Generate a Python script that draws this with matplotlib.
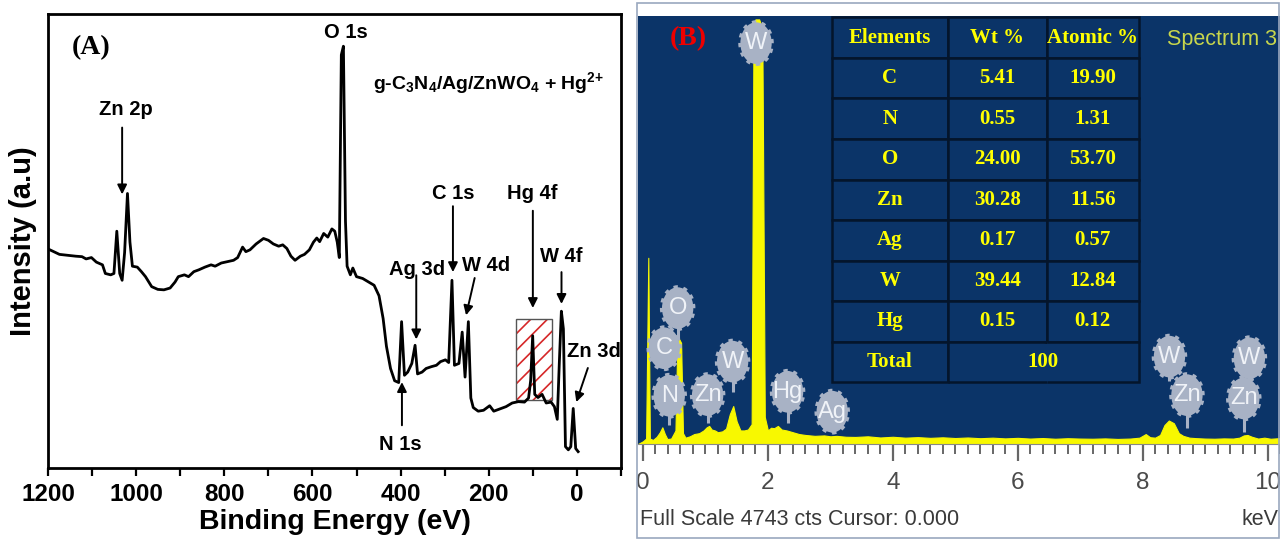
import numpy as np
import matplotlib.pyplot as plt
from matplotlib import font_manager
from matplotlib.patches import Rectangle
from matplotlib.path import Path
from matplotlib.transforms import Affine2D
from matplotlib.ticker import MultipleLocator

# ---- XPS survey spectrum (binding energy in eV, intensity in a.u.) ----
be = [1200, 1174, 1155.4, 1136.8, 1122.9, 1113.6, 1101.5, 1090.3, 1076.4, 1069.9,
      1057.8, 1050.4, 1043.9, 1037.3, 1031.8, 1026.2, 1019.7, 1014.1, 1008.5, 997.4,
      988.1, 978.8, 964.8, 950.9, 937.0, 923.0, 911.9, 904.4, 890.5, 881.2,
      869.1, 857.9, 844.0, 830.1, 820.8, 806.9, 792.9, 779.0, 769.7, 758.5,
      751.1, 741.8, 727.8, 711.1, 699.9, 688.8, 676.7, 667.4, 658.1, 648.8,
      639.5, 627.4, 618.1, 607.0, 597.7, 590.2, 583.7, 574.5, 565.2, 555.9,
      549.4, 543.8, 539.1, 534.5, 529.8, 525.1, 521.4, 514.0, 508.4, 500.1,
      486.1, 472.2, 460.1, 449.0, 439.7, 432.2, 422.9, 413.6, 404.3, 397.8,
      391.3, 383.9, 374.6, 367.2, 361.6, 351.4, 342.1, 330.0, 318.8, 309.5,
      298.4, 290.9, 283.5, 277.9, 267.7, 260.3, 253.8, 246.3, 240.7, 235.2,
      224.0, 211.9, 198.0, 188.7, 174.8, 160.8, 146.9, 132.9, 119.0, 109.7,
      105.0, 100.4, 95.7, 88.3, 79.0, 69.7, 58.6, 51.1, 44.6, 40.0,
      35.3, 30.7, 26.0, 19.5, 13.9, 8.4, 2.8, -2.8]
intensity = [48.2, 47.0, 46.8, 46.6, 46.5, 46.0, 46.3, 45.3, 44.7, 42.8,
             42.5, 42.8, 52.1, 42.8, 41.3, 47.4, 60.4, 49.7, 44.4, 44.2,
             43.2, 42.1, 39.9, 39.3, 39.2, 39.6, 40.9, 42.1, 42.5, 42.1,
             43.2, 43.6, 44.2, 44.7, 44.4, 45.1, 45.4, 45.7, 46.3, 48.6,
             47.6, 48.0, 49.3, 50.5, 50.1, 49.3, 48.8, 49.1, 48.3, 46.6,
             45.7, 46.6, 47.0, 48.0, 49.7, 50.6, 49.8, 51.6, 50.8, 52.6,
             52.1, 49.7, 46.3, 90.9, 92.8, 54.3, 44.4, 42.5, 44.0, 42.1,
             41.7, 40.9, 40.2, 37.9, 32.9, 26.8, 21.9, 19.2, 18.8, 32.2,
             20.4, 21.1, 23.0, 27.0, 20.7, 21.1, 21.9, 22.3, 22.6, 23.4,
             23.8, 23.2, 41.3, 22.6, 23.0, 29.9, 20.0, 32.2, 15.4, 13.3,
             12.5, 12.7, 13.7, 12.5, 13.0, 13.5, 14.3, 14.6, 14.5, 15.4,
             19.2, 29.1, 16.2, 15.5, 16.2, 14.3, 14.5, 13.5, 10.7, 23.0,
             34.5, 30.6, 4.7, 4.0, 4.7, 13.1, 4.3, 3.6]

# peak labels: text position and arrow (tail -> head)
xps_labels = ['Zn 2p', 'O 1s', 'C 1s', 'Hg 4f', 'Ag 3d', 'W 4d', 'W 4f', 'Zn 3d', 'N 1s']
xps_label_pos = [(1024, 78.9), (524, 95.8), (281.3, 60.5), (100.3, 60.5), (362.8, 43.7),
                 (207, 44.6), (35.6, 46.5), (-38.6, 25.7), (401.6, 5.2)]
xps_arrows = [((1031.8, 74.9), (1031.8, 60.2)),
              ((281.3, 57.6), (281.3, 43.1)),
              ((100, 56.6), (100, 35.2)),
              ((364.5, 42.4), (364.5, 28.3)),
              ((232, 41.8), (251.5, 33.6)),
              ((35, 43.1), (35, 36.1)),
              ((-24.8, 22.0), (1.4, 14.5)),
              ((397, 9.4), (397, 18.9))]
hg_box = (55.8, 138.3, 15.0, 32.8)   # BE from, BE to, I from, I to

# ---- EDS spectrum (keV, counts) ----
kev = [-0.08, 0.0, 0.05, 0.085, 0.11, 0.16, 0.22, 0.27, 0.31, 0.35,
       0.39, 0.45, 0.52, 0.55, 0.58, 0.61, 0.64, 0.68, 0.75, 0.82,
       0.9, 0.97, 1.02, 1.06, 1.1, 1.15, 1.2, 1.27, 1.33, 1.39,
       1.445, 1.5, 1.56, 1.62, 1.68, 1.74, 1.77, 1.8, 1.86, 1.91,
       1.95, 2.0, 2.05, 2.1, 2.16, 2.22, 2.3, 2.4, 2.5, 2.6,
       2.75, 2.9, 3.0, 3.1, 3.25, 3.4, 3.6, 3.8, 4.0, 4.2,
       4.4, 4.6, 4.8, 5.0, 5.2, 5.4, 5.6, 5.8, 6.0, 6.2,
       6.4, 6.6, 6.8, 7.0, 7.2, 7.4, 7.6, 7.8, 7.95, 8.05,
       8.12, 8.2, 8.28, 8.35, 8.42, 8.5, 8.58, 8.65, 8.75, 8.85,
       9.0, 9.15, 9.3, 9.45, 9.55, 9.62, 9.68, 9.75, 9.85, 9.95,
       10.05, 10.2]
counts = [0, 30, 60, 2061, 60, 45, 80, 130, 185, 110,
          55, 60, 150, 1134, 1160, 1120, 120, 70, 85, 110,
          120, 150, 185, 200, 160, 150, 130, 140, 170, 330,
          420, 250, 150, 150, 160, 220, 4650, 4700, 4700, 4600,
          300, 150, 180, 175, 200, 160, 150, 130, 110, 100,
          90, 95, 85, 90, 80, 78, 85, 72, 80, 70,
          76, 68, 74, 66, 72, 64, 70, 62, 68, 60,
          66, 58, 64, 60, 58, 62, 56, 60, 70, 110,
          75, 70, 100, 210, 260, 230, 120, 90, 70, 65,
          60, 58, 62, 60, 70, 95, 100, 80, 60, 70,
          58, 65]
full_scale = 4743

balloon_el = ['C', 'O', 'N', 'Zn', 'W', 'Hg', 'Ag', 'W', 'W', 'Zn', 'W', 'Zn']
balloon_kev = [0.34, 0.555, 0.42, 1.035, 1.435, 2.315, 3.03, 1.81, 8.43, 8.71, 9.71, 9.62]
balloon_cts = [1060, 1504, 534, 541, 912, 578, 358, 4437, 967, 541, 949, 504]
stem_cts = [860, 1150, 210, 232, 579, 232, 133, 4437, 700, 177, 700, 136]

# ---- composition table ----
elements = ['C', 'N', 'O', 'Zn', 'Ag', 'W', 'Hg']
wt_pct = [5.41, 0.55, 24.00, 30.28, 0.17, 39.44, 0.15]
at_pct = [19.90, 1.31, 53.70, 11.56, 0.57, 12.84, 0.12]
total = 100

names = {f.name for f in font_manager.fontManager.ttflist}
narrow = 'Liberation Sans Narrow' if 'Liberation Sans Narrow' in names else 'Liberation Sans'

plt.rcParams['font.family'] = 'Liberation Sans'
plt.rcParams['mathtext.fontset'] = 'custom'
plt.rcParams['mathtext.rm'] = 'Liberation Sans:bold'
plt.rcParams['mathtext.it'] = 'Liberation Sans:bold'
plt.rcParams['mathtext.bf'] = 'Liberation Sans:bold'
plt.rcParams['hatch.linewidth'] = 1.2

fig = plt.figure(figsize=(12.8, 5.4), dpi=100)

# ================= (A) XPS =================
W, H = 1280.0, 540.0
axA = fig.add_axes([48 / W, 1 - 468 / H, 573 / W, 454.5 / H])
axA.plot(be, intensity, color='k', lw=2.0, zorder=3)
axA.set_xlim(1200, -100)
axA.set_ylim(0, 100)
axA.set_yticks([])
axA.set_xticks(np.arange(1200, -1, -200))
axA.xaxis.set_minor_locator(MultipleLocator(100))
axA.tick_params(axis='x', which='both', direction='out', length=6, width=1.6,
                labelsize=17.5, pad=5)
for t in axA.get_xticklabels():
    t.set_fontweight('bold')
for s in axA.spines.values():
    s.set_linewidth(2)
axA.set_xlabel('Binding Energy (eV)', fontsize=20.5, fontweight='bold', labelpad=2)
axA.set_ylabel('Intensity (a.u)', fontsize=21, fontweight='bold', labelpad=8)

b0, b1, i0, i1 = hg_box
axA.add_patch(Rectangle((b0, i0), b1 - b0, i1 - i0, fill=False, hatch='//',
                        edgecolor='#d62728', lw=0, zorder=2))
axA.add_patch(Rectangle((b0, i0), b1 - b0, i1 - i0, fill=False,
                        edgecolor='#555555', lw=1.0, zorder=2))

for lab, (x, y) in zip(xps_labels, xps_label_pos):
    axA.text(x, y, lab, ha='center', va='center', fontsize=14.5, fontweight='bold')
for tail, head in xps_arrows:
    axA.annotate('', xy=head, xytext=tail,
                 arrowprops=dict(arrowstyle='-|>', color='k', lw=1.4,
                                 mutation_scale=14, shrinkA=0, shrinkB=0))
axA.text(461.7, 84.8, r'g-C$_3$N$_4$/Ag/ZnWO$_4$ + Hg$^{2{+}}$', ha='left', va='center',
         fontsize=14, fontweight='bold')
axA.text(1102.9, 92.4, '(A)', ha='center', va='center', fontsize=20,
         fontweight='bold', family='Liberation Serif')

# ================= (B) EDS =================
blue = '#0b3468'
axB = fig.add_axes([638 / W, 1 - 444 / H, 642 / W, 428.5 / H], facecolor=blue)
axB.fill_between(kev, counts, color='#f8f800', lw=0.8, zorder=2)
axB.set_xlim(-0.08, 10.2)
axB.set_ylim(0, full_scale)
axB.set_yticks([])
axB.set_xticks(np.arange(0, 11, 2))
axB.xaxis.set_minor_locator(MultipleLocator(0.2))
axB.tick_params(axis='x', which='major', direction='out', length=12, width=1.6,
                colors='#666666', labelcolor='#4a4a4a', labelsize=17.5, pad=8)
axB.tick_params(axis='x', which='minor', direction='out', length=7, width=1.4,
                colors='#666666')
for t in axB.get_xticklabels():
    t.set_family(narrow)
for side in ['top', 'right', 'left']:
    axB.spines[side].set_visible(False)
axB.spines['bottom'].set_color('#888888')

# element markers
ellipse = Path.unit_circle().transformed(Affine2D().scale(1.0, 1.33))
balloon_col = '#a8b2c5'
for el, x, y, ys in zip(balloon_el, balloon_kev, balloon_cts, stem_cts):
    axB.vlines(x, ys, y, color=balloon_col, lw=2.2, zorder=3)
    axB.scatter([x], [y], s=900, marker=ellipse, facecolor=balloon_col,
                edgecolor=balloon_col, linewidths=3, linestyle=(0, (1, 1.3)), zorder=4)
    axB.text(x, y, el, ha='center', va='center', color='#f0f3f8', fontsize=17,
             family=narrow, zorder=5)

axB.text(0.078, 0.947, '(B)', transform=axB.transAxes, ha='center', va='center',
         color='#ee0000', fontsize=20, fontweight='bold', family='Liberation Serif')
axB.text(0.995, 0.943, 'Spectrum 3', transform=axB.transAxes, ha='right', va='center',
         color='#c8d64c', fontsize=15.5, family=narrow)
axB.text(0.003, -0.177, 'Full Scale %d cts Cursor: 0.000' % full_scale,
         transform=axB.transAxes, ha='left', va='center', color='#3a3a3a',
         fontsize=15.5, family=narrow)
axB.text(0.997, -0.177, 'keV', transform=axB.transAxes, ha='right', va='center',
         color='#3a3a3a', fontsize=15.5, family=narrow)

fig.add_artist(Rectangle((637 / W, 2 / H), 642 / W, 535 / H, transform=fig.transFigure,
                         fill=False, edgecolor='#9aa8bf', lw=1.2))

# composition table
axT = fig.add_axes([832 / W, 1 - 382.3 / H, 307 / W, 365 / H])
axT.axis('off')
col_w = [0.377, 0.322, 0.301]
rows = [['Elements', 'Wt %', 'Atomic %']]
rows += [[e, f'{w:.2f}', f'{a:.2f}'] for e, w, a in zip(elements, wt_pct, at_pct)]
rows += [['Total', '', '']]
tbl = axT.table(cellText=rows, colWidths=col_w, bbox=[0, 0, 1, 1], cellLoc='center')
tbl.auto_set_font_size(False)
for (r, c), cell in tbl.get_celld().items():
    cell.set_facecolor(blue)
    cell.set_edgecolor('#04152b')
    cell.set_linewidth(1.8)
    cell.get_text().set_color('#ffff00')
    cell.get_text().set_fontsize(15)
    cell.get_text().set_fontweight('bold')
    cell.get_text().set_family('Liberation Serif')
nrow = len(rows)
tbl[nrow - 1, 1].visible_edges = 'BTL'
tbl[nrow - 1, 2].visible_edges = 'BTR'
axT.text(col_w[0] + (col_w[1] + col_w[2]) / 2, 0.5 / nrow, str(total),
         ha='center', va='center', color='#ffff00', fontsize=15,
         fontweight='bold', family='Liberation Serif')

fig.savefig('out.png', dpi=100)
